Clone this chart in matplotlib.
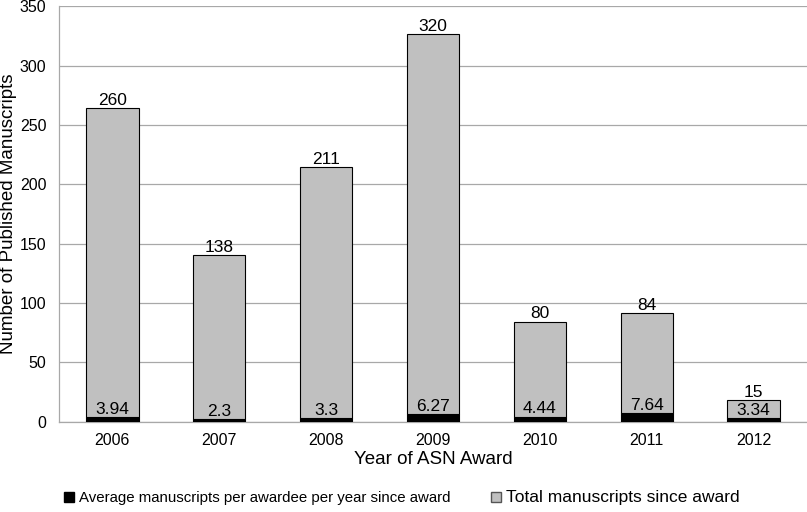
import matplotlib.pyplot as plt
from matplotlib.patches import Patch

plt.rcParams['font.family'] = ['Liberation Sans', 'DejaVu Sans']

years = ['2006', '2007', '2008', '2009', '2010', '2011', '2012']
avg_per_year = [3.94, 2.3, 3.3, 6.27, 4.44, 7.64, 3.34]
total = [260, 138, 211, 320, 80, 84, 15]

fig = plt.figure(figsize=(8.07, 5.12), dpi=100)
ax = fig.add_axes([0.073, 0.176, 0.927, 0.812])

x = range(len(years))
w = 0.49
ax.bar(x, avg_per_year, width=w, color='black', edgecolor='black', linewidth=0.8, zorder=3)
ax.bar(x, total, width=w, bottom=avg_per_year, color='#c0c0c0', edgecolor='black',
       linewidth=0.8, zorder=3)

for i in x:
    ax.text(i, avg_per_year[i] + total[i] + 0.3, str(total[i]), ha='center', va='bottom',
            fontsize=12.5, zorder=4)
    ax.text(i, avg_per_year[i] + 0.2, f"{avg_per_year[i]:g}", ha='center', va='bottom',
            fontsize=12.5, zorder=4)

ax.set_xlim(-0.5, 6.5)
ax.set_ylim(0, 350)
ax.set_yticks(range(0, 351, 50))
ax.set_xticks(list(x))
ax.set_xticklabels(years)
ax.tick_params(axis='both', length=0, labelsize=11.5)
ax.tick_params(axis='x', pad=8)
ax.tick_params(axis='y', pad=9)
ax.yaxis.grid(True, color='#a8a8a8', linewidth=0.9, zorder=0)
for s in ['top', 'right']:
    ax.spines[s].set_visible(False)
for s in ['left', 'bottom']:
    ax.spines[s].set_color('#a8a8a8')
    ax.spines[s].set_linewidth(0.9)

ax.set_xlabel('Year of ASN Award', fontsize=13.5, labelpad=2)
ax.set_ylabel('Number of Published Manuscripts', fontsize=13.5)
ax.yaxis.set_label_coords(-0.056, 0.5)

handles = [Patch(facecolor='black', edgecolor='black'),
           Patch(facecolor='#c0c0c0', edgecolor='#555555')]
labels = ['Average manuscripts per awardee per year since award', 'Total manuscripts since award']
leg = fig.legend(handles, labels, loc='center left', bbox_to_anchor=(0.062, 0.028), ncol=2,
                 frameon=False, handlelength=0.7, handleheight=0.7, handletextpad=0.3,
                 columnspacing=2.7, fontsize=10.8)
leg.get_texts()[1].set_fontsize(12.5)

fig.savefig('out.png', dpi=100)
